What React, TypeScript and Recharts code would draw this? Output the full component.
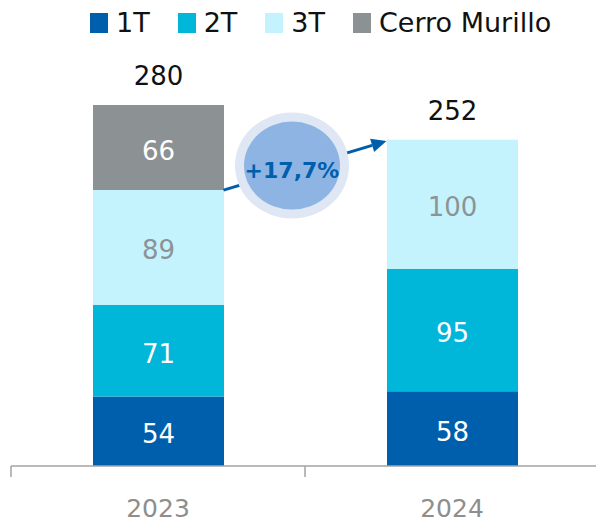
import { BarChart, Bar, XAxis, YAxis, Legend, LabelList, ReferenceLine } from 'recharts';

const years = ['2023', '2024'];
const q1 = [54, 58];
const q2 = [71, 95];
const q3 = [89, 100];
const cerroMurillo = [66, null];
const totals = [280, 252];
const growthLabel = '+17,7%';
// arrow goes from the top of the 2023 quarters (without Cerro Murillo) to the 2024 total
const growthFrom = 214;
const growthTo = 252;

const FONT = '"DejaVu Sans", sans-serif';
const CHART_W = 600;
const CHART_H = 523;
const MARGIN = { top: 55, right: 1, left: 11, bottom: 0 };
const BAR_SIZE = 131;
const BAND_HALF = (CHART_W - MARGIN.left - MARGIN.right) / years.length / 2;
const TICK_OFFSET = 8; // tickSize + tickMargin

const seriesDefs = [
  { key: 'q1', name: '1T', color: '#005fad', labelColor: '#ffffff', values: q1 },
  { key: 'q2', name: '2T', color: '#00b7da', labelColor: '#ffffff', values: q2 },
  { key: 'q3', name: '3T', color: '#c4f3fd', labelColor: '#8c9398', values: q3 },
  { key: 'cerro', name: 'Cerro Murillo', color: '#8c9194', labelColor: '#ffffff', values: cerroMurillo },
];

const data = years.map((year, i) => ({
  year,
  q1: q1[i],
  q2: q2[i],
  q3: q3[i],
  cerro: cerroMurillo[i],
}));

const topSeries = (i: number) => {
  let top = 0;
  seriesDefs.forEach((s, k) => {
    if (s.values[i] != null) top = k;
  });
  return top;
};

function makeLabel(seriesIdx: number) {
  const s = seriesDefs[seriesIdx];
  return (props: any) => {
    const vb = props.viewBox || props;
    const { x, y, width, height } = vb;
    const index = props.index;
    const v = s.values[index];
    if (v == null || x == null) return null;
    const cx = x + width / 2;
    return (
      <g>
        <text x={cx} y={y + height / 2 + 12} textAnchor="middle" fill={s.labelColor} fontSize={26} fontFamily={FONT}>
          {v}
        </text>
        {topSeries(index) === seriesIdx && (
          <text x={cx} y={y - 20} textAnchor="middle" fill="#111111" fontSize={26} fontFamily={FONT}>
            {totals[index]}
          </text>
        )}
      </g>
    );
  };
}

const YearTick = (props: any) => {
  const { x, y, payload } = props;
  const axisY = y - TICK_OFFSET;
  return (
    <g>
      <line x1={x - BAND_HALF} y1={axisY} x2={x - BAND_HALF} y2={axisY + 11} stroke="#a3a3a3" strokeWidth={1.5} />
      <text x={x} y={axisY + 51} textAnchor="middle" fill="#8e8e8e" fontSize={25} fontFamily={FONT}>
        {payload.value}
      </text>
    </g>
  );
};

const GrowthArrow = (props: any) => {
  const { x1, y1, x2, y2 } = props;
  if (x1 == null) return null;
  const sx = x1 + BAR_SIZE / 2;
  const ex = x2 - BAR_SIZE / 2;
  const dx = ex - sx;
  const dy = y2 - y1;
  const len = Math.sqrt(dx * dx + dy * dy);
  const ux = dx / len;
  const uy = dy / len;
  const headLen = 15;
  const headW = 7;
  const bx = ex - ux * headLen;
  const by = y2 - uy * headLen;
  const mx = (sx + ex) / 2 - 13;
  const my = (y1 + y2) / 2;
  return (
    <g>
      <line x1={sx} y1={y1} x2={bx} y2={by} stroke="#005fad" strokeWidth={3} />
      <polygon
        points={`${ex},${y2} ${bx - uy * headW},${by + ux * headW} ${bx + uy * headW},${by - ux * headW}`}
        fill="#005fad"
      />
      <ellipse cx={mx} cy={my} rx={57} ry={53} fill="#dfe7f4" />
      <ellipse cx={mx} cy={my} rx={48} ry={44} fill="#8db4e3" />
      <text x={mx} y={my + 12} textAnchor="middle" fill="#005fad" fontSize={22} fontWeight="bold" fontFamily={FONT}>
        {growthLabel}
      </text>
    </g>
  );
};

const LegendContent = (props: any) => {
  const payload = props.payload || [];
  return (
    <div style={{ height: 50, display: 'flex', alignItems: 'flex-start', paddingLeft: 90, paddingTop: 9, boxSizing: 'border-box' }}>
      {payload.map((entry: any) => (
        <div key={entry.value} style={{ display: 'flex', alignItems: 'center', marginRight: 28 }}>
          <span style={{ width: 18, height: 20, background: entry.color, display: 'inline-block', marginRight: 8 }} />
          <span style={{ fontSize: 27, fontFamily: FONT, color: '#111111', lineHeight: '28px' }}>{entry.value}</span>
        </div>
      ))}
    </div>
  );
};

export default function App() {
  return (
    <div style={{ position: 'absolute', top: 0, left: 0, width: 596, height: CHART_H, overflow: 'hidden', fontFamily: FONT }}>
      <BarChart width={CHART_W} height={CHART_H} data={data} margin={MARGIN} barSize={BAR_SIZE}>
        <XAxis
          dataKey="year"
          height={CHART_H - 466}
          axisLine={{ stroke: '#a3a3a3', strokeWidth: 1.5 }}
          tickLine={false}
          tickSize={6}
          tickMargin={2}
          interval={0}
          tick={<YearTick />}
        />
        <YAxis hide type="number" domain={[0, Math.max(...totals)]} />
        <Legend
          verticalAlign="top"
          content={<LegendContent />}
          wrapperStyle={{ left: 0, top: 0, width: 596 }}
        />
        {seriesDefs.map((s, k) => (
          <Bar key={s.key} dataKey={s.key} name={s.name} stackId="a" fill={s.color} isAnimationActive={false}>
            <LabelList dataKey={s.key} content={makeLabel(k)} />
          </Bar>
        ))}
        <ReferenceLine
          segment={[{ x: years[0], y: growthFrom }, { x: years[1], y: growthTo }]}
          ifOverflow="visible"
          shape={<GrowthArrow />}
        />
      </BarChart>
    </div>
  );
}
